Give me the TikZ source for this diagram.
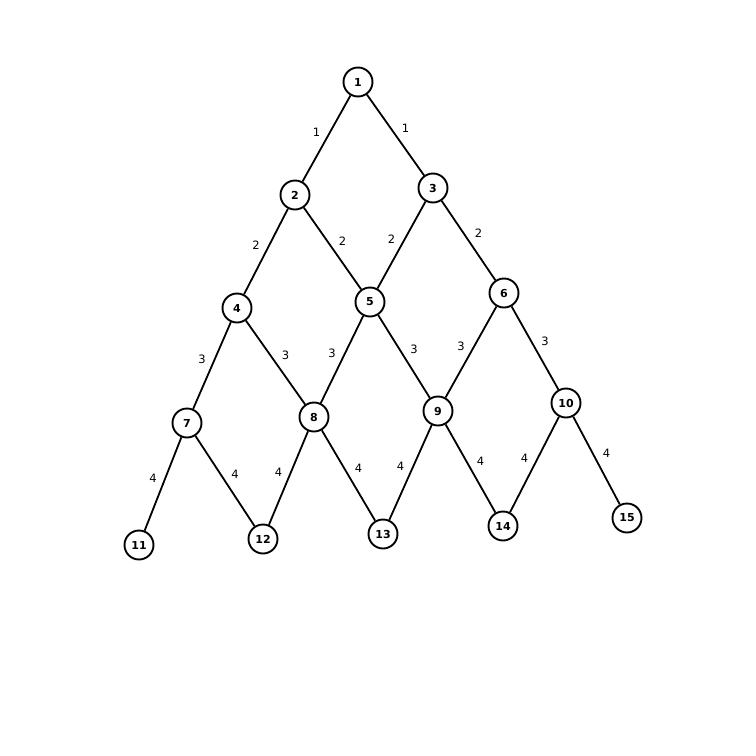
\documentclass[tikz,border=0pt]{standalone}
\usepackage{fontspec}
\setmainfont{DejaVu Sans}
\usetikzlibrary{positioning}

\tikzset{
	vertex/.style={draw, circle, line width=1.9pt, minimum size=29pt, inner sep=0pt, font=\bfseries\fontsize{11}{13}\selectfont},
	edge/.style={line width=1.8pt},
	lblL/.style={midway, xshift=-10pt, yshift=6pt, font=\fontsize{11.5}{13}\selectfont},
	lblR/.style={midway, xshift=10pt, yshift=7pt, font=\fontsize{11.5}{13}\selectfont}
}

\begin{document}
\begin{tikzpicture}[x=1pt, y=-1pt]
			%%%%% START %%%%%
			
			\useasboundingbox (0, 0) rectangle (756, 756);
			
			\node[vertex] (n1) at (358, 82) {1};
			
			\node[vertex] (n2) at (295, 195) {2};
			\node[vertex] (n3) at (433, 188) {3};
			
			\node[vertex] (n4) at (237, 308) {4};
			\node[vertex] (n5) at (370, 302) {5};
			\node[vertex] (n6) at (504, 293) {6};
			
			\node[vertex] (n7) at (187, 423) {7};
			\node[vertex] (n8) at (314, 417) {8};
			\node[vertex] (n9) at (438, 411) {9};
			\node[vertex] (n10) at (566, 403) {10};
			
			\node[vertex] (n11) at (139, 545) {11};
			\node[vertex] (n12) at (263, 539) {12};
			\node[vertex] (n13) at (383, 534) {13};
			\node[vertex] (n14) at (503, 526) {14};
			\node[vertex] (n15) at (627, 518) {15};
			
			\draw[edge] (n1) -- node[lblL] {1} (n2);
			\draw[edge] (n1) -- node[lblR] {1} (n3);
			
			\draw[edge] (n2) -- node[lblL] {2} (n4);
			\draw[edge] (n2) -- node[lblR] {2} (n5);
			\draw[edge] (n3) -- node[lblL] {2} (n5);
			\draw[edge] (n3) -- node[lblR] {2} (n6);
			
			\draw[edge] (n4) -- node[lblL] {3} (n7);
			\draw[edge] (n4) -- node[lblR] {3} (n8);
			\draw[edge] (n5) -- node[lblL] {3} (n8);
			\draw[edge] (n5) -- node[lblR] {3} (n9);
			\draw[edge] (n6) -- node[lblL] {3} (n9);
			\draw[edge] (n6) -- node[lblR] {3} (n10);
			
			\draw[edge] (n7) -- node[lblL] {4} (n11);
			\draw[edge] (n7) -- node[lblR] {4} (n12);
			\draw[edge] (n8) -- node[lblL] {4} (n12);
			\draw[edge] (n8) -- node[lblR] {4} (n13);
			\draw[edge] (n9) -- node[lblL] {4} (n13);
			\draw[edge] (n9) -- node[lblR] {4} (n14);
			\draw[edge] (n10) -- node[lblL] {4} (n14);
			\draw[edge] (n10) -- node[lblR] {4} (n15);
			
			%%%%% END %%%%%
\end{tikzpicture}
\end{document}
